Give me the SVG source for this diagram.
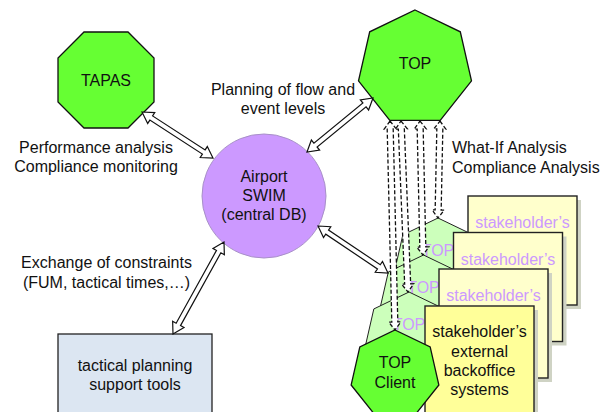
<svg xmlns="http://www.w3.org/2000/svg" xmlns:xlink="http://www.w3.org/1999/xlink" width="611" height="412" viewBox="0 0 611 412">
<style>
text{font-family:"Liberation Sans",Arial,sans-serif;font-size:16px;fill:#111;}
.c{text-anchor:middle;}
.p{fill:#cc99ff;}
.ln{fill:#fff;stroke:#111;stroke-width:1.2;stroke-linejoin:miter;}
.dl{fill:#fff;stroke:#111;stroke-width:1.3;stroke-dasharray:4 2.2;}
.box{stroke:#222;stroke-width:1.4;}
.sh{fill:#cfd3c4;}
</style>
<defs>
<polygon id="h45" points="0,0 35.18,16.94 43.87,55.01 19.53,85.55 -19.53,85.55 -43.87,55.01 -35.18,16.94"/>
</defs>
<rect width="611" height="412" fill="#fff"/>

<g id="tapas">
<polygon points="84,32 128,32 154,58 154,102 128,128 84,128 58,102 58,58" fill="#66ff33" stroke="#111" stroke-width="1.3"/>
<text class="c" x="106" y="86">TAPAS</text>
</g>

<g id="top">
<polygon points="415,10 460.3,31.8 471.5,80.9 440.2,120.3 389.8,120.3 358.5,80.9 369.7,31.8" fill="#66ff33" stroke="#111" stroke-width="1.3"/>
<text class="c" x="415" y="69">TOP</text>
</g>

<g id="swim">
<circle cx="264" cy="196" r="62" fill="#cc99ff" stroke="#a890c8" stroke-width="1"/>
<text class="c" x="264" y="182">Airport</text>
<text class="c" x="264" y="201">SWIM</text>
<text class="c" x="264" y="220">(central DB)</text>
</g>

<g id="tactical">
<rect x="58" y="334" width="154" height="90" fill="#dce6f2" stroke="#222" stroke-width="1.3"/>
<text class="c" x="135" y="371">tactical planning</text>
<text class="c" x="135" y="390">support tools</text>
</g>

<g id="ghosts">
<use xlink:href="#h45" transform="translate(438,218)" fill="#ccffbb" stroke="#222" stroke-width="1"/>
<text class="c p" x="438" y="256">TOP</text>
<use xlink:href="#h45" transform="translate(423.5,255)" fill="#ccffbb" stroke="#222" stroke-width="1"/>
<text class="c p" x="423.5" y="293">TOP</text>
<use xlink:href="#h45" transform="translate(409,292)" fill="#ccffbb" stroke="#222" stroke-width="1"/>
<text class="c p" x="409" y="330">TOP</text>
</g>

<g id="stakeholders">
<g id="sh1">
<rect class="sh" x="472" y="200" width="109" height="109"/>
<rect class="box" x="468" y="196" width="109" height="109" fill="#ffffcc"/>
<text class="c p" x="522.5" y="228">stakeholder’s</text>
</g>
<g id="sh2">
<rect class="sh" x="457.5" y="236.5" width="109" height="109"/>
<rect class="box" x="453.5" y="232.5" width="109" height="109" fill="#ffffcc"/>
<text class="c p" x="508" y="264.5">stakeholder’s</text>
</g>
<g id="sh3">
<rect class="sh" x="443" y="273" width="109" height="109"/>
<rect class="box" x="439" y="269" width="109" height="109" fill="#ffffcc"/>
<text class="c p" x="493.5" y="301">stakeholder’s</text>
</g>
<g id="sh4">
<rect class="sh" x="429" y="310" width="109" height="109"/>
<rect class="box" x="425" y="306" width="109" height="109" fill="#ffff99"/>
<text class="c" x="479.5" y="337">stakeholder’s</text>
<text class="c" x="479.5" y="356.5">external</text>
<text class="c" x="479.5" y="376">backoffice</text>
<text class="c" x="479.5" y="395">systems</text>
</g>
</g>

<g id="topclient">
<use xlink:href="#h45" transform="translate(395,330)" fill="#66ff33" stroke="#111" stroke-width="1.3"/>
<text class="c" x="395" y="368">TOP</text>
<text class="c" x="395" y="388">Client</text>
</g>

<g id="labels">
<text class="c" x="283" y="95">Planning of flow and</text>
<text class="c" x="283" y="114">event levels</text>
<text class="c" x="96" y="153">Performance analysis</text>
<text class="c" x="96" y="172">Compliance monitoring</text>
<text class="c" x="106.5" y="268">Exchange of constraints</text>
<text class="c" x="106.5" y="288">(FUM, tactical times,…)</text>
<text x="452" y="153">What-If Analysis</text>
<text x="452" y="173">Compliance Analysis</text>
</g>

<g id="connectors">
<path class="ln" transform="translate(142,112) rotate(32.94)" d="M0,0 L11,-6.5 L11,-2.5 L73.6,-2.5 L73.6,-6.5 L84.6,0 L73.6,6.5 L73.6,2.5 L11,2.5 L11,6.5 Z"/>
<path class="ln" transform="translate(373,98) rotate(140.71)" d="M0,0 L11,-6.5 L11,-2.5 L74.3,-2.5 L74.3,-6.5 L85.3,0 L74.3,6.5 L74.3,2.5 L11,2.5 L11,6.5 Z"/>
<path class="ln" transform="translate(224,242) rotate(119)" d="M0,0 L11,-6.5 L11,-2.5 L94.2,-2.5 L94.2,-6.5 L105.2,0 L94.2,6.5 L94.2,2.5 L11,2.5 L11,6.5 Z"/>
<path class="ln" transform="translate(318,226) rotate(33.87)" d="M0,0 L11,-6.5 L11,-2.5 L73.3,-2.5 L73.3,-6.5 L84.3,0 L73.3,6.5 L73.3,2.5 L11,2.5 L11,6.5 Z"/>
<path class="dl" transform="translate(390,121) rotate(88.63)" d="M0,0 L8,-6 L8,-3 L201.06,-3 L201.06,-6 L209.06,0 L201.06,6 L201.06,3 L8,3 L8,6 Z"/>
<path class="dl" transform="translate(401,121) rotate(87.66)" d="M0,0 L8,-6 L8,-3 L163.14,-3 L163.14,-6 L171.14,0 L163.14,6 L163.14,3 L8,3 L8,6 Z"/>
<path class="dl" transform="translate(420,121) rotate(88.72)" d="M0,0 L8,-6 L8,-3 L126.03,-3 L126.03,-6 L134.03,0 L126.03,6 L126.03,3 L8,3 L8,6 Z"/>
<path class="dl" transform="translate(440,121) rotate(91.18)" d="M0,0 L8,-6 L8,-3 L89.02,-3 L89.02,-6 L97.02,0 L89.02,6 L89.02,3 L8,3 L8,6 Z"/>
</g>
</svg>
